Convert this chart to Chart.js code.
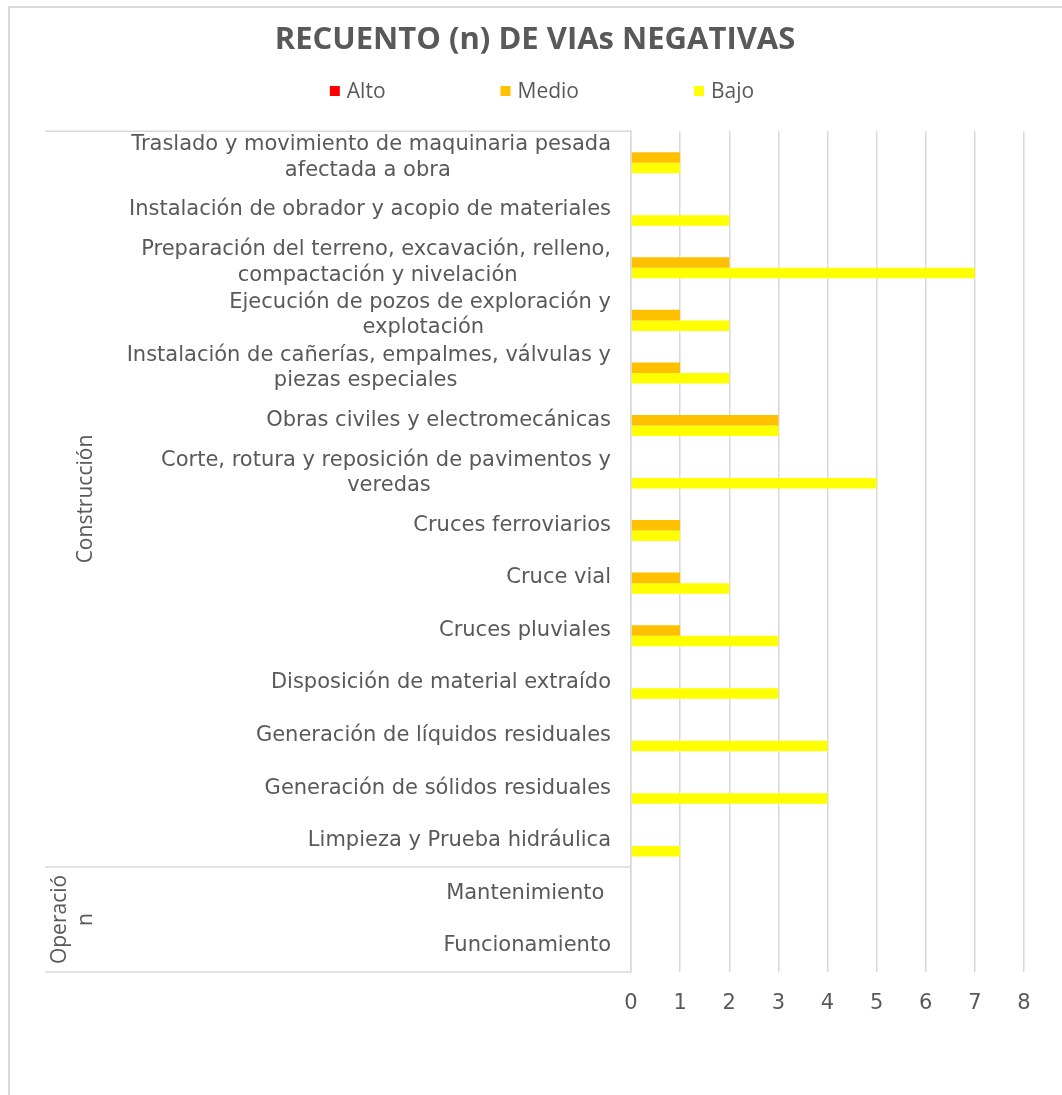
<!DOCTYPE html>
<html lang="es">
<head>
<meta charset="utf-8">
<title>Recuento (n) de VIAs negativas</title>
<script src="https://cdn.jsdelivr.net/npm/chart.js@4.4.1/dist/chart.umd.min.js"></script>
<style>
    html, body { margin: 0; padding: 0; background: #fff; }
    #contenedor { position: relative; width: 1062px; height: 1095px; overflow: hidden; }
    /* borde del área del gráfico */
    #marco {
        position: absolute; left: 8px; top: 6px; width: 1200px; height: 1200px;
        border-left: 2px solid #d9d9d9; border-top: 2px solid #d9d9d9;
    }
    #grafico { position: absolute; left: 0; top: 0; }
</style>
</head>
<body>
<div id="contenedor">
    <div id="marco"></div>
    <canvas id="grafico" width="1062" height="1095"></canvas>
</div>
<script>
// Actividades (eje de categorías), de arriba hacia abajo
const actividades = [
    ['Traslado y movimiento de maquinaria pesada', 'afectada a obra'],
    'Instalación de obrador y acopio de materiales',
    ['Preparación del terreno, excavación, relleno,', 'compactación y nivelación'],
    ['Ejecución de pozos de exploración y', 'explotación'],
    ['Instalación de cañerías, empalmes, válvulas y', 'piezas especiales'],
    'Obras civiles y electromecánicas',
    ['Corte, rotura y reposición de pavimentos y', 'veredas'],
    'Cruces ferroviarios',
    'Cruce vial',
    'Cruces pluviales',
    'Disposición de material extraído',
    'Generación de líquidos residuales',
    'Generación de sólidos residuales',
    'Limpieza y Prueba hidráulica',
    'Mantenimiento ',
    'Funcionamiento'
];

// Etapas del proyecto y cuántas actividades abarca cada una
const etapas = ['Construcción', 'Operación'];
const actividadesPorEtapa = [14, 2];

// Recuento de VIAs negativas por nivel
const alto  = [0, 0, 0, 0, 0, 0, 0, 0, 0, 0, 0, 0, 0, 0, 0, 0];
const medio = [1, 0, 2, 1, 1, 3, 0, 1, 1, 1, 0, 0, 0, 0, 0, 0];
const bajo  = [1, 2, 7, 2, 2, 3, 5, 1, 2, 3, 3, 4, 4, 1, 0, 0];

const ticksX = [0, 1, 2, 3, 4, 5, 6, 7, 8];

const GRIS_TEXTO = '#595959';
const GRIS_LINEA = '#d9d9d9';
const FUENTE_EJE = 21;

// centra las líneas de una etiqueta de dos renglones (relleno con espacios al final)
const medidor = document.createElement('canvas').getContext('2d');
medidor.font = `${FUENTE_EJE}px "DejaVu Sans"`;
function centrarLineas(etiqueta) {
    if (!Array.isArray(etiqueta)) return etiqueta;
    const anchos = etiqueta.map(l => medidor.measureText(l).width);
    const anchoMax = Math.max(...anchos);
    const espacio = medidor.measureText('\u00a0').width;
    return etiqueta.map((l, i) => l + '\u00a0'.repeat(Math.round((anchoMax - anchos[i]) / 2 / espacio)));
}

// leyenda dibujada a mano para respetar la separación amplia entre elementos
const leyendaPropia = {
    id: 'leyendaPropia',
    afterDraw(chart, args, opts) {
        const ctx = chart.ctx;
        ctx.save();
        ctx.font = opts.font;
        ctx.textBaseline = 'middle';
        const items = chart.data.datasets.map(ds => ({
            texto: ds.label,
            color: ds.backgroundColor,
            ancho: ctx.measureText(ds.label).width
        }));
        const total = items.reduce((s, it) => s + opts.caja + opts.separacion + it.ancho, 0)
            + opts.espaciado * (items.length - 1);
        let x = opts.centro - total / 2;
        items.forEach(it => {
            ctx.fillStyle = it.color;
            ctx.fillRect(x, opts.y - opts.caja / 2, opts.caja, opts.caja);
            ctx.fillStyle = GRIS_TEXTO;
            ctx.fillText(it.texto, x + opts.caja + opts.separacion, opts.y + 1);
            x += opts.caja + opts.separacion + it.ancho + opts.espaciado;
        });
        ctx.restore();
    }
};

// segundo nivel del eje: etapas con sus líneas divisorias y texto vertical
const etapasEje = {
    id: 'etapasEje',
    afterDraw(chart, args, opts) {
        const { ctx, chartArea, scales: { y } } = chart;
        const borde = i => {
            if (i <= 0) return y.top;
            if (i >= actividades.length) return y.bottom;
            return (y.getPixelForValue(i - 1) + y.getPixelForValue(i)) / 2;
        };
        ctx.save();
        ctx.strokeStyle = GRIS_LINEA;
        ctx.lineWidth = 1.5;
        ctx.font = opts.font;
        ctx.fillStyle = GRIS_TEXTO;
        ctx.textAlign = 'center';
        ctx.textBaseline = 'middle';

        let inicio = 0;
        const lineas = [borde(0)];
        etapas.forEach((etapa, k) => {
            const fin = inicio + actividadesPorEtapa[k];
            const y0 = borde(inicio), y1 = borde(fin);
            lineas.push(y1);

            // cortar el texto por caracteres si no entra en el alto disponible
            const maxAncho = (y1 - y0) - 10;
            const renglones = [];
            let actual = '';
            for (const c of etapa) {
                if (actual && ctx.measureText(actual + c).width > maxAncho) {
                    renglones.push(actual);
                    actual = c;
                } else {
                    actual += c;
                }
            }
            renglones.push(actual);

            ctx.save();
            ctx.translate(opts.x, (y0 + y1) / 2);
            ctx.rotate(-Math.PI / 2);
            renglones.forEach((r, i) => {
                ctx.fillText(r, 0, (i - (renglones.length - 1)) * opts.interlineado);
            });
            ctx.restore();
            inicio = fin;
        });

        lineas.forEach(py => {
            ctx.beginPath();
            ctx.moveTo(opts.desde, py);
            ctx.lineTo(chartArea.left, py);
            ctx.stroke();
        });
        ctx.restore();
    }
};

const ctx = document.getElementById('grafico').getContext('2d');
new Chart(ctx, {
    type: 'bar',
    data: {
        labels: actividades.map(centrarLineas),
        datasets: [
            { label: 'Alto',  data: alto,  backgroundColor: '#ff0000' },
            { label: 'Medio', data: medio, backgroundColor: '#ffc000' },
            { label: 'Bajo',  data: bajo,  backgroundColor: '#ffff00' }
        ]
    },
    options: {
        indexAxis: 'y',
        responsive: false,
        animation: false,
        categoryPercentage: 0.6,
        barPercentage: 1,
        borderWidth: 0,
        layout: { padding: { left: 46, right: 38, top: 0, bottom: 0 } },
        scales: {
            x: {
                min: 0,
                max: 8,
                afterBuildTicks: scale => { scale.ticks = ticksX.map(v => ({ value: v })); },
                afterFit: scale => { scale.height = 123; },
                grid: { color: GRIS_LINEA, lineWidth: 1.5, drawTicks: false },
                border: { display: false },
                ticks: {
                    padding: 19,
                    color: GRIS_TEXTO,
                    font: { family: '"DejaVu Sans"', size: FUENTE_EJE, lineHeight: 1.2 }
                }
            },
            y: {
                afterFit: scale => { scale.width = 585; },
                grid: { display: false, drawTicks: false },
                border: { color: GRIS_LINEA, width: 1.5 },
                ticks: {
                    autoSkip: false,
                    padding: 20,
                    color: GRIS_TEXTO,
                    font: { family: '"DejaVu Sans"', size: FUENTE_EJE, lineHeight: 1.2 }
                }
            }
        },
        plugins: {
            legend: { display: false },
            tooltip: { enabled: false },
            title: {
                display: true,
                text: 'RECUENTO (n) DE VIAs NEGATIVAS',
                color: GRIS_TEXTO,
                font: { family: '"Open Sans"', size: 31, weight: 'bold', lineHeight: 1.2 },
                padding: { top: 22, bottom: 72 }
            },
            leyendaPropia: {
                font: '21px "Open Sans"',
                centro: 542,
                y: 91,
                caja: 10,
                separacion: 7,
                espaciado: 115
            },
            etapasEje: {
                font: '21px "Open Sans"',
                x: 86,
                interlineado: 26,
                desde: 45
            }
        }
    },
    plugins: [leyendaPropia, etapasEje]
});
</script>
</body>
</html>
